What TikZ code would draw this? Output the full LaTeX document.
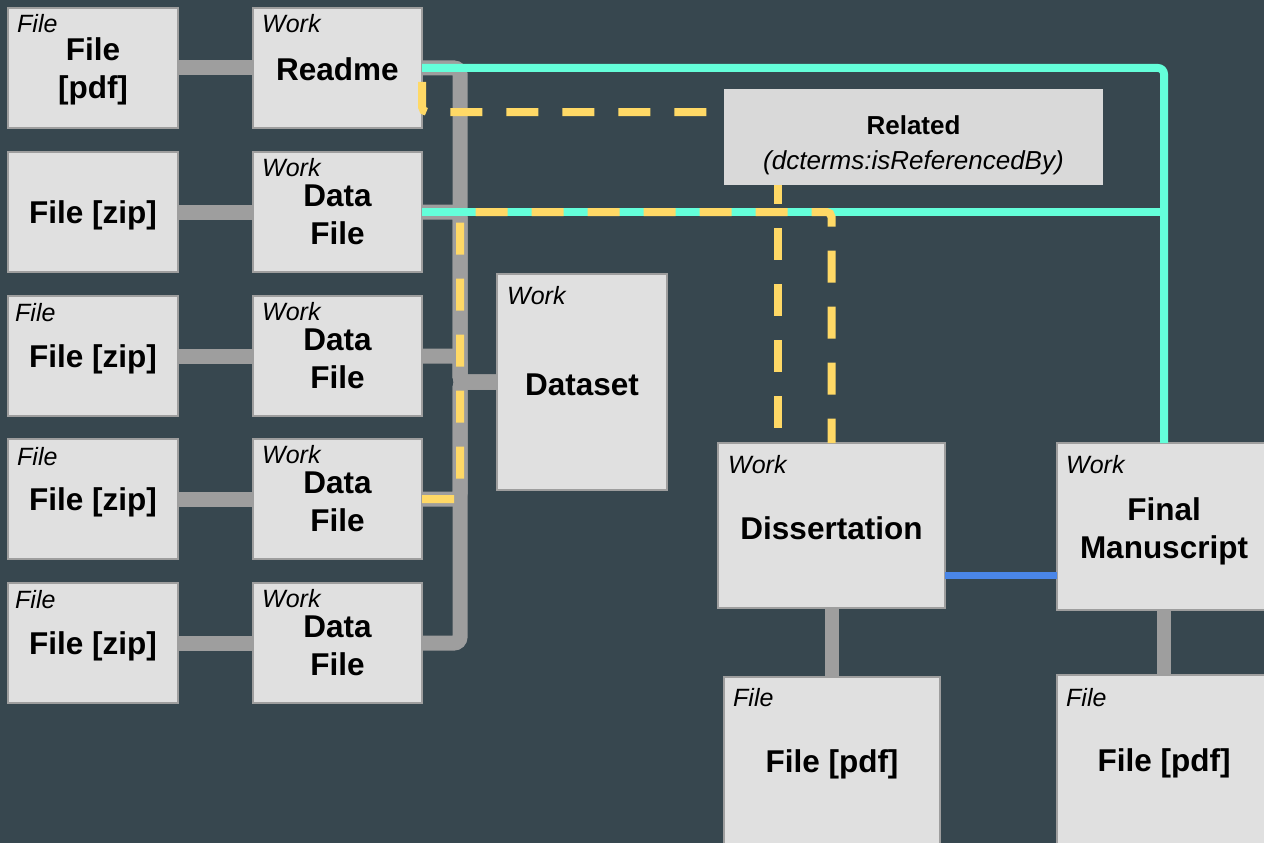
\documentclass[tikz,border=0pt]{standalone}
\usepackage{fontspec}
\setmainfont{Liberation Sans}
\definecolor{bg}{HTML}{37474F}
\definecolor{boxfill}{HTML}{E0E0E0}
\definecolor{boxline}{HTML}{9E9E9E}
\definecolor{relfill}{HTML}{D9D9D9}
\definecolor{conn}{HTML}{9E9E9E}
\definecolor{tealc}{HTML}{64FFDA}
\definecolor{goldc}{HTML}{FFD966}
\definecolor{bluec}{HTML}{4A86E8}
\begin{document}
\begin{tikzpicture}[x=1pt,y=-1pt,
  box/.style={draw=boxline, line width=2pt, fill=boxfill, inner sep=0pt, outer sep=0pt},
  small/.style={box, minimum width=170pt, minimum height=120pt},
  main/.style={font=\fontsize{31.5}{38}\selectfont\bfseries, align=center, inner sep=0pt, yshift=-3pt},
  relbox/.style={fill=relfill, inner sep=0pt, outer sep=0pt, minimum width=379pt, minimum height=96pt},
  tag/.style={font=\fontsize{25}{30}\selectfont\itshape, anchor=base west, inner sep=0pt},
  reltext/.style={font=\fontsize{26}{35}\selectfont, align=center, inner sep=0pt},
  gline/.style={draw=conn, line width=15pt, rounded corners=6pt},
  cline/.style={draw=tealc, line width=8pt, rounded corners=6pt},
  yline/.style={draw=goldc, line width=8pt, dash pattern=on 32pt off 24pt, rounded corners=5pt},
  bline/.style={draw=bluec, line width=7pt}
]
\clip (0,0) rectangle (1264,843);
\fill[bg] (0,0) rectangle (1264,843);
\coordinate (bus) at (460,0);

% boxes
\node[small, label={[main]center:File\\{[pdf]}}] (f1) at (93,68) {};
\node[small, label={[main]center:File [zip]}] (f2) at (93,212) {};
\node[small, label={[main]center:File [zip]}] (f3) at (93,356) {};
\node[small, label={[main]center:File [zip]}] (f4) at (93,499) {};
\node[small, label={[main]center:File [zip]}] (f5) at (93,643) {};
\node[small, minimum width=169pt, label={[main, yshift=2pt]center:Readme}] (w1) at (337.5,68) {};
\node[small, minimum width=169pt, label={[main]center:Data\\File}] (w2) at (337.5,212) {};
\node[small, minimum width=169pt, label={[main]center:Data\\File}] (w3) at (337.5,356) {};
\node[small, minimum width=169pt, label={[main]center:Data\\File}] (w4) at (337.5,499) {};
\node[small, minimum width=169pt, label={[main]center:Data\\File}] (w5) at (337.5,643) {};
\node[box, minimum width=170pt, minimum height=216pt, label={[main]center:Dataset}] (ds) at (582,382) {};
\node[relbox] (rel) at (913.5,137) {};
\node[reltext] (reltxt) at (913.5,145) {\textbf{Related}\\\textit{(dcterms:isReferencedBy)}};
\node[box, minimum width=227pt, minimum height=165pt, label={[main]center:Dissertation}] (diss) at (831.5,525.5) {};
\node[box, minimum width=214pt, minimum height=167pt, label={[main, yshift=-2pt]center:Final\\Manuscript}] (fm) at (1164,526.5) {};
\node[box, minimum width=216pt, minimum height=168pt, label={[main]center:File [pdf]}] (pd) at (832,761) {};
\node[box, minimum width=214pt, minimum height=170pt, label={[main]center:File [pdf]}] (pf) at (1164,760) {};

% gray connectors
\foreach \a/\b in {f1/w1,f2/w2,f3/w3,f4/w4,f5/w5}
  \draw[gline] (\a.east) -- (\b.west);
\foreach \w in {w1,w2,w3,w4,w5}
  \draw[gline] (\w.east) -- (\w.east -| bus) |- (ds.west);
\draw[gline, line width=14pt] (diss.south) -- (diss.south |- pd.north);
\draw[gline, line width=14pt] (fm.south) -- (pf.north);

% cyan
\draw[cline] (w1.east) -| (fm.north);
\draw[cline] (w2.east) -- (w2.east -| fm.north);

% yellow dashed
\draw[yline] ([yshift=-14pt]w1.east) -- ([yshift=-44pt]w1.east) -- ([yshift=25pt]rel.west);
\draw[yline, dash phase=13pt] ([xshift=-135.5pt]rel.south) -- ([xshift=-135.5pt]rel.south |- diss.north);
\draw[yline] (w4.east) -| (bus |- w2.east) -| (diss.north);

% blue
\draw[bline] ([yshift=-49.5pt]diss.east) -- ([yshift=-49.5pt]diss.east -| fm.west);

% type tags
\node[tag] (t1) at (17,33) {File};
\node[tag] (t3) at (15,321) {File};
\node[tag] (t4) at (17,465) {File};
\node[tag] (t5) at (15,608) {File};
\node[tag] (u1) at (262,33) {Work};
\node[tag] (u2) at (262,176) {Work};
\node[tag] (u3) at (262,320) {Work};
\node[tag] (u4) at (262,463) {Work};
\node[tag] (u5) at (262,607) {Work};
\node[tag] (uds) at (507,304) {Work};
\node[tag] (udiss) at (728,473) {Work};
\node[tag] (ufm) at (1066,473) {Work};
\node[tag] (tpd) at (733,706) {File};
\node[tag] (tpf) at (1066,706) {File};
\end{tikzpicture}
\end{document}
